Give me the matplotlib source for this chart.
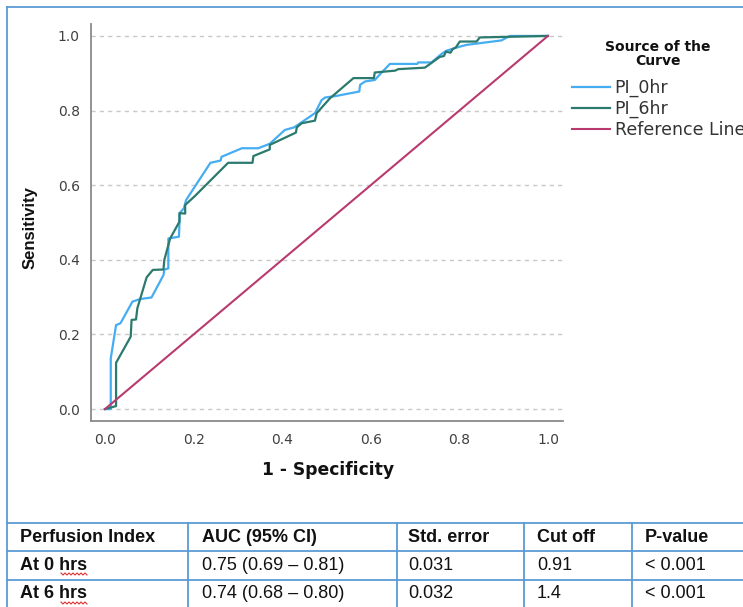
import matplotlib.pyplot as plt
import numpy as np
from matplotlib.lines import Line2D

# ROC points: (1 - specificity, sensitivity)
fpr_0hr = [0.0, 0.013, 0.013, 0.025, 0.035, 0.062, 0.080, 0.105, 0.132, 0.134, 0.143,
           0.143, 0.167, 0.169, 0.178, 0.183, 0.238, 0.261, 0.263, 0.309, 0.346,
           0.372, 0.406, 0.427, 0.474, 0.489, 0.497, 0.521, 0.574, 0.576, 0.587,
           0.609, 0.643, 0.705, 0.707, 0.737, 0.760, 0.770, 0.794, 0.816, 0.895,
           0.914, 1.0]
tpr_0hr = [0.0, 0.0, 0.136, 0.225, 0.230, 0.288, 0.295, 0.299, 0.359, 0.374, 0.377,
           0.457, 0.462, 0.526, 0.538, 0.560, 0.660, 0.666, 0.676, 0.699, 0.699,
           0.711, 0.748, 0.755, 0.793, 0.828, 0.835, 0.839, 0.851, 0.869, 0.878,
           0.882, 0.925, 0.925, 0.929, 0.929, 0.952, 0.960, 0.969, 0.976, 0.988,
           1.0, 1.0]

fpr_6hr = [0.0, 0.025, 0.025, 0.058, 0.060, 0.070, 0.073, 0.094, 0.108, 0.132, 0.134,
           0.147, 0.168, 0.168, 0.181, 0.181, 0.203, 0.278, 0.333, 0.335, 0.372,
           0.372, 0.431, 0.433, 0.444, 0.474, 0.478, 0.508, 0.561, 0.607, 0.609,
           0.655, 0.662, 0.722, 0.734, 0.756, 0.765, 0.770, 0.780, 0.785, 0.792,
           0.801, 0.839, 0.846, 1.0]
tpr_6hr = [0.0, 0.008, 0.124, 0.194, 0.239, 0.240, 0.270, 0.353, 0.373, 0.374, 0.400,
           0.457, 0.502, 0.525, 0.524, 0.547, 0.571, 0.660, 0.660, 0.678, 0.696,
           0.708, 0.741, 0.755, 0.766, 0.773, 0.793, 0.833, 0.887, 0.887, 0.902,
           0.907, 0.911, 0.915, 0.925, 0.944, 0.946, 0.958, 0.955, 0.965, 0.969,
           0.985, 0.985, 0.996, 1.0]

ref_x = [0.0, 1.0]
ref_y = [0.0, 1.0]

series_names = ["PI_0hr", "PI_6hr", "Reference Line"]
legend_title = "Source of the\nCurve"
ticks = [0.0, 0.2, 0.4, 0.6, 0.8, 1.0]

col_headers = ["Perfusion Index", "AUC (95% CI)", "Std. error", "Cut off", "P-value"]
row_labels = ["At 0 hrs", "At 6 hrs"]
auc_ci = ["0.75 (0.69 \u2013 0.81)", "0.74 (0.68 \u2013 0.80)"]
std_err = ["0.031", "0.032"]
cut_off = ["0.91", "1.4"]
p_values = ["< 0.001", "< 0.001"]

W, H = 743, 607
fig = plt.figure(figsize=(W / 100, H / 100), dpi=100)

# background layer in pixel coords for the frame and the table
ov = fig.add_axes([0, 0, 1, 1], zorder=0)
ov.set_xlim(0, W)
ov.set_ylim(H, 0)
ov.axis("off")

ax = fig.add_axes([91 / W, 1 - 421 / H, 472 / W, 397 / H], zorder=1)
ax.plot(fpr_0hr, tpr_0hr, color="#45adf2", lw=1.6, label=series_names[0], zorder=3)
ax.plot(fpr_6hr, tpr_6hr, color="#2b7a6d", lw=1.6, label=series_names[1], zorder=4)
ax.plot(ref_x, ref_y, color="#b93a6e", lw=1.5, label=series_names[2], zorder=5)

ax.set_xlim(-0.0316, 1.034)
ax.set_ylim(-0.032, 1.032)
ax.set_xticks(ticks)
ax.set_yticks(ticks)
ax.set_xticklabels([f"{t:.1f}" for t in ticks])
ax.set_yticklabels([f"{t:.1f}" for t in ticks])
ax.tick_params(length=0, labelsize=10, labelcolor="#404040")
ax.tick_params(axis="x", pad=9)
ax.tick_params(axis="y", pad=8)
ax.yaxis.grid(True, linestyle=(0, (3, 3)), color="#c8c8c8", lw=1)
ax.set_axisbelow(True)
for s in ["top", "right"]:
    ax.spines[s].set_visible(False)
for s in ["left", "bottom"]:
    ax.spines[s].set_color("#8a8a8a")
    ax.spines[s].set_linewidth(1.3)

ax.set_xlabel("1 - Specificity", fontsize=12.3, fontweight="bold", color="#111111")
ax.xaxis.set_label_coords((328 - 91) / 472, (421 - 470) / 397)
ax.xaxis.label.set_va("center")
ax.set_ylabel("Sensitivity", fontsize=12, fontweight="bold", color="#111111",
              family="Liberation Sans")
ax.yaxis.set_label_coords((30 - 91) / 472, (421 - 228) / 397)
ax.yaxis.label.set_va("center")

leg = ax.legend(loc="upper left", bbox_to_anchor=(572 / W, 1 - 79 / H),
                bbox_transform=fig.transFigure, frameon=False, fontsize=12.5,
                handlelength=2.2, handletextpad=0.25,
                labelspacing=0.17, borderpad=0, borderaxespad=0)
for t in leg.get_texts():
    t.set_color("#333333")
ov.text(658, 54, legend_title, ha="center", va="center", fontsize=10,
        fontweight="bold", linespacing=1.05, color="#111111")

# frame and table
blue = "#5b9bd5"
ov.add_line(Line2D([7, 7], [7, H], color=blue, lw=1.3))
ov.add_line(Line2D([7, W], [7, 7], color=blue, lw=1.3))
row_lines = [522.5, 551, 579.5]
col_lines = [187.5, 397, 524, 632]
for y in row_lines:
    ov.add_line(Line2D([7, W], [y, y], color=blue, lw=1.3))
for x in col_lines:
    ov.add_line(Line2D([x, x], [row_lines[0], H], color=blue, lw=1.3))

text_x = [20, 202, 408, 537, 645]
text_y = [537, 565, 594]
for x, h in zip(text_x, col_headers):
    ov.text(x, text_y[0], h, fontsize=13, fontweight="bold", family="Liberation Sans",
            va="center", ha="left", color="#111111")
for i in range(len(row_labels)):
    vals = [row_labels[i], auc_ci[i], std_err[i], cut_off[i], p_values[i]]
    for j, (x, v) in enumerate(zip(text_x, vals)):
        ov.text(x, text_y[i + 1], v, fontsize=13, fontweight="bold" if j == 0 else "normal",
                family="Liberation Sans", va="center", ha="left", color="#111111")
    # spell-check squiggle under "hrs"
    zx = np.arange(61, 88, 2)
    zy = text_y[i + 1] + 9 + np.where(np.arange(len(zx)) % 2 == 0, -1, 1)
    ov.add_line(Line2D(zx, zy, color="#e03030", lw=0.8))

fig.savefig("out.png", dpi=100)
